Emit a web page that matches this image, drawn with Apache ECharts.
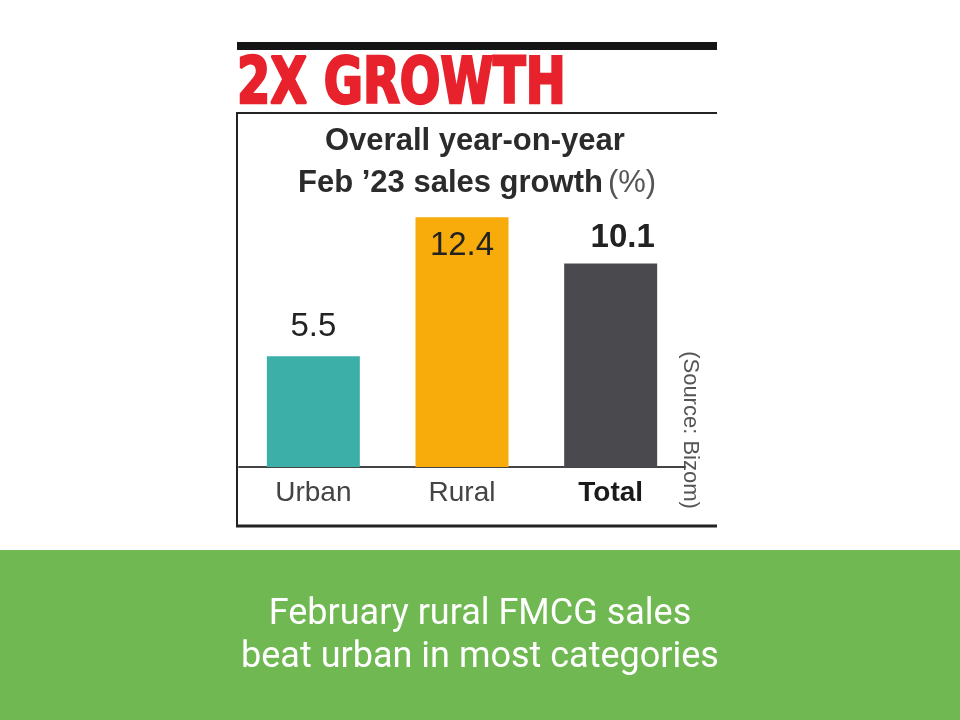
<!DOCTYPE html>
<html>
<head>
<meta charset="utf-8">
<script src="https://cdn.jsdelivr.net/npm/echarts@6/dist/echarts.min.js"></script>
<style>html,body{margin:0;padding:0;background:#fff;}#c{width:960px;height:720px;}</style>
</head>
<body>
<div id="c"></div>
<script>
const categories = ['Urban', 'Rural', 'Total'];
const growth = [5.5, 12.4, 10.1];
const barColors = ['#3cb0a8', '#f8ac0c', '#4a494e'];
const headline = '2X GROWTH';
const subtitleLine1 = 'Overall year-on-year';
const subtitleLine2 = 'Feb ’23 sales growth';
const unitText = '(%)';
const sourceText = '(Source: Bizom)';
const captionLines = ['February rural FMCG sales', 'beat urban in most categories'];

const FONT = "'Liberation Sans', Arial, sans-serif";
const NARROW = "'Liberation Sans Narrow', 'DejaVu Sans Condensed', 'Liberation Sans', sans-serif";

const chart = echarts.init(document.getElementById('c'), null, {renderer: 'canvas'});

const labelCfg = [
  {position: 'top', distance: 13, fontWeight: 'normal', offset: [0, 0]},
  {position: 'insideTop', distance: 12, fontWeight: 'normal', offset: [0, 0]},
  {position: 'top', distance: 9, fontWeight: 'bold', offset: [12, 0]}
];

const option = {
  backgroundColor: '#ffffff',
  animation: false,
  title: [
    {
      text: subtitleLine1,
      left: 320, top: 121,
      textStyle: {fontFamily: FONT, fontSize: 31, fontWeight: 'bold', color: '#2b2b2b'}
    },
    {
      text: '{b|' + subtitleLine2 + '} {n|' + unitText + '}',
      left: 293, top: 163,
      textStyle: {
        rich: {
          b: {fontFamily: FONT, fontSize: 31, fontWeight: 'bold', color: '#2b2b2b'},
          n: {fontFamily: FONT, fontSize: 31, fontWeight: 'normal', color: '#555'}
        }
      }
    }
  ],
  grid: {left: 239, right: 275, top: 185, bottom: 253, containLabel: false},
  xAxis: {
    type: 'category',
    data: categories,
    axisLine: {show: true, lineStyle: {color: '#444', width: 2}},
    axisTick: {show: false},
    axisLabel: {
      margin: 12,
      formatter: function (v) { return v === 'Total' ? '{t|' + v + '}' : '{n|' + v + '}'; },
      rich: {
        n: {fontFamily: FONT, fontSize: 28, color: '#444'},
        t: {fontFamily: FONT, fontSize: 28, fontWeight: 'bold', color: '#1a1a1a'}
      }
    }
  },
  yAxis: {
    type: 'value', min: 0, max: 14,
    show: false, splitLine: {show: false}
  },
  series: [{
    type: 'bar',
    barWidth: 93,
    data: growth.map(function (v, i) {
      return {
        value: v,
        itemStyle: {color: barColors[i]},
        label: {
          show: true,
          position: labelCfg[i].position,
          distance: labelCfg[i].distance,
          offset: labelCfg[i].offset,
          fontFamily: FONT,
          fontSize: 33,
          fontWeight: labelCfg[i].fontWeight,
          color: '#222'
        }
      };
    })
  }],
  graphic: [
    {type: 'rect', shape: {x: 237, y: 42, width: 480, height: 8}, style: {fill: '#151515'}},
    {type: 'text', x: 237, y: 86, scaleX: 0.83, scaleY: 1, style: {text: headline, x: 0, y: 0, font: 'bold 64px ' + NARROW, fill: '#e8222c', stroke: '#e8222c', lineWidth: 2.5, textAlign: 'left', textVerticalAlign: 'middle'}},
    {type: 'line', shape: {x1: 237, y1: 113, x2: 717, y2: 113}, style: {stroke: '#222', lineWidth: 2}},
    {type: 'line', shape: {x1: 237, y1: 112, x2: 237, y2: 527}, style: {stroke: '#222', lineWidth: 2}},
    {type: 'line', shape: {x1: 236, y1: 526, x2: 717, y2: 526}, style: {stroke: '#222', lineWidth: 3}},
    {type: 'text', rotation: -Math.PI / 2, x: 690, y: 430, style: {text: sourceText, x: 0, y: 0, font: '22px ' + FONT, fill: '#555', textAlign: 'center', textVerticalAlign: 'middle'}},
    {type: 'rect', shape: {x: 0, y: 550, width: 960, height: 170}, style: {fill: '#70b851'}},
    {type: 'text', style: {text: captionLines[0], x: 480, y: 615, font: '36px Roboto, sans-serif', fill: '#ffffff', textAlign: 'center', textVerticalAlign: 'middle'}},
    {type: 'text', style: {text: captionLines[1], x: 480, y: 658, font: '36px Roboto, sans-serif', fill: '#ffffff', textAlign: 'center', textVerticalAlign: 'middle'}}
  ]
};
chart.setOption(option);
</script>
</body>
</html>
